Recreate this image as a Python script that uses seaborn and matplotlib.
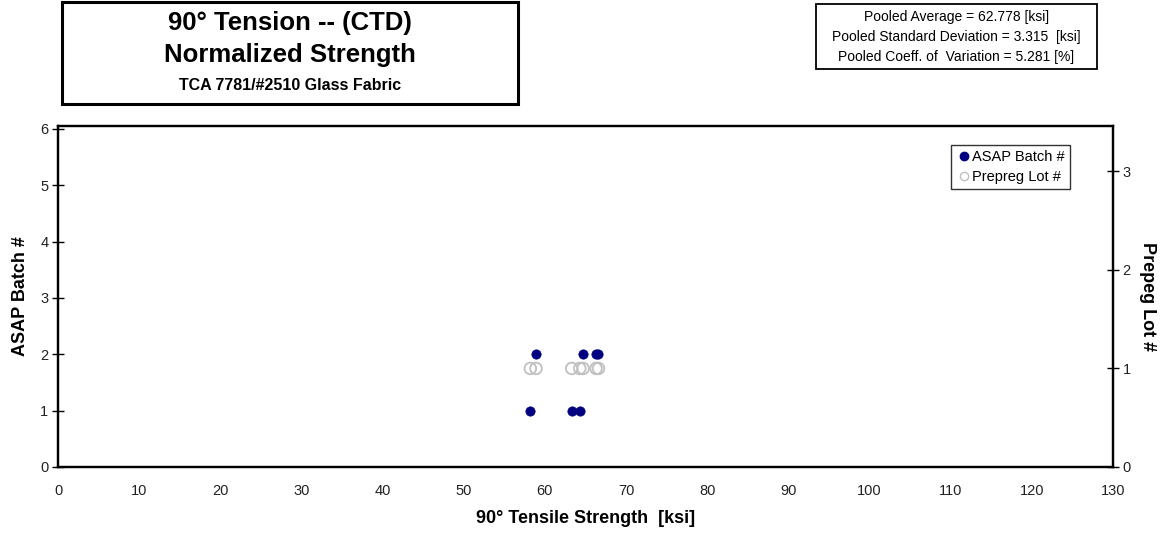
import matplotlib
matplotlib.use("Agg")
import matplotlib.pyplot as plt
import seaborn as sns
import pandas as pd
from matplotlib.patches import Rectangle

# Data
strength = [58.2, 63.3, 64.3, 58.9, 64.7, 66.3, 66.6]
asap_batch = [1, 1, 1, 2, 2, 2, 2]
prepreg_lot = [1, 1, 1, 1, 1, 1, 1]
x_ticks = list(range(0, 131, 10))
left_ticks = [0, 1, 2, 3, 4, 5, 6]
right_ticks = [0, 1, 2, 3]

df = pd.DataFrame({"strength": strength, "batch": asap_batch, "lot": prepreg_lot})

sns.set_style("white")
plt.rcParams["font.family"] = ["Liberation Sans", "DejaVu Sans"]
plt.rcParams["text.color"] = "black"
plt.rcParams["axes.labelcolor"] = "black"

fig = plt.figure(figsize=(11.63, 5.42), dpi=100)
ax = fig.add_axes([0.0499, 0.1384, 0.9071, 0.6291])
ax2 = ax.twinx()

sns.scatterplot(data=df, x="strength", y="lot", ax=ax2, marker="o", s=70,
                facecolor="none", edgecolor="#C0C0C0", linewidth=1.3,
                legend=False, zorder=2)
sns.scatterplot(data=df, x="strength", y="batch", ax=ax, marker="o", s=45,
                color="#000080", edgecolor="#000080", linewidth=0.5,
                legend=False, zorder=3)
ax.set_zorder(ax2.get_zorder() + 1)
ax.patch.set_visible(False)

ax.set_xlim(0, 130)
ax.set_ylim(0, 6.05)
ax2.set_ylim(0, 3.46)
ax.set_xticks(x_ticks)
ax.set_yticks(left_ticks)
ax2.set_yticks(right_ticks)

for a in (ax, ax2):
    for s in a.spines.values():
        s.set_color("black")
        s.set_linewidth(1.6)
    a.tick_params(direction="inout", length=8, width=1, colors="black",
                  labelsize=10.5, labelcolor="#222222")
ax.tick_params(axis="x", pad=8)
ax.tick_params(axis="y", pad=3)
ax2.tick_params(axis="y", pad=3)

ax.set_xlabel("90° Tensile Strength  [ksi]", fontsize=13, fontweight="bold", labelpad=9)
ax.set_ylabel("ASAP Batch #", fontsize=13, fontweight="bold", labelpad=8)
ax2.set_ylabel("Prepeg Lot #", fontsize=13, fontweight="bold", rotation=270, labelpad=18)

# Legend
h1 = plt.Line2D([], [], marker="o", linestyle="none", markersize=6,
                markerfacecolor="#000080", markeredgecolor="#000080")
h2 = plt.Line2D([], [], marker="o", linestyle="none", markersize=6,
                markerfacecolor="none", markeredgecolor="#C0C0C0")
leg = ax.legend([h1, h2], ["ASAP Batch #", "Prepreg Lot #"], loc="upper right",
                bbox_to_anchor=(0.9593, 0.944), fontsize=10.5, frameon=True, fancybox=False,
                handletextpad=0.1, borderpad=0.35, labelspacing=0.4, handlelength=1.0,
                borderaxespad=0)
leg.get_frame().set_edgecolor("black")
leg.get_frame().set_linewidth(1.0)
for t in leg.get_texts():
    t.set_color("black")

# Title box
fig.patches.append(Rectangle((62 / 1163, 1 - 104 / 542), (518 - 62) / 1163, 102 / 542,
                             transform=fig.transFigure, fill=False, edgecolor="black",
                             linewidth=2.2))
cx = (62 + 518) / 2 / 1163
fig.text(cx, 1 - 23 / 542, "90° Tension -- (CTD)", ha="center", va="center",
         fontsize=18.5, fontweight="bold")
fig.text(cx, 1 - 55 / 542, "Normalized Strength", ha="center", va="center",
         fontsize=18.5, fontweight="bold")
fig.text(cx, 1 - 85 / 542, "TCA 7781/#2510 Glass Fabric", ha="center", va="center",
         fontsize=11.5, fontweight="bold")

# Stats box
fig.patches.append(Rectangle((816 / 1163, 1 - 69 / 542), (1097 - 816) / 1163, 65 / 542,
                             transform=fig.transFigure, fill=False, edgecolor="black",
                             linewidth=1.3))
sx = (816 + 1097) / 2 / 1163
fig.text(sx, 1 - 17 / 542, "Pooled Average = 62.778 [ksi]", ha="center", va="center", fontsize=10)
fig.text(sx, 1 - 37 / 542, "Pooled Standard Deviation = 3.315  [ksi]", ha="center", va="center", fontsize=10)
fig.text(sx, 1 - 57 / 542, "Pooled Coeff. of  Variation = 5.281 [%]", ha="center", va="center", fontsize=10)

fig.savefig("out.png", dpi=100)
